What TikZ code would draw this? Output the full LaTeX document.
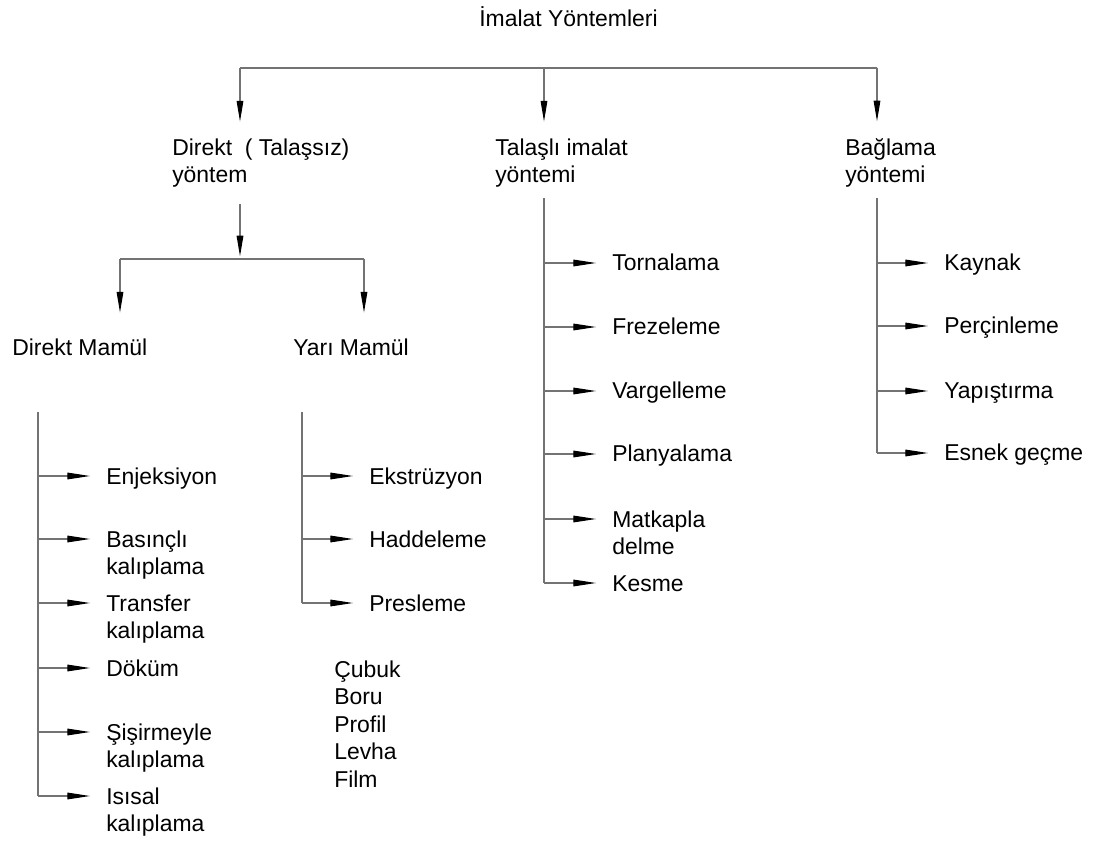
\documentclass[tikz,border=0pt]{standalone}
\usepackage{fontspec}
\setmainfont{Liberation Sans}
\usetikzlibrary{arrows.meta, positioning}

\begin{document}
\begin{tikzpicture}[
  x=0.75pt, y=-0.75pt,
  % --- Text styles ---
  lbl/.style={anchor=base west, inner sep=0pt, align=left,
    font=\fontsize{17.2pt}{20.6pt}\selectfont},
  % --- Connectors ---
  wire/.style={draw=black!55, line width=0.8pt},
  vflow/.style={wire, -{Triangle[length=15.5pt, width=5pt, color=black]}},
  hflow/.style={wire, -{Triangle[length=17pt, width=5pt, color=black]},
    shorten >=12pt},
]
\useasboundingbox (0,0) rectangle (1093,841);

% ===================== TITLE =====================
\node[lbl] (title) at (479,27) {İmalat Yöntemleri};

% ===================== LEVEL 1 =====================
% (base of a two-line node = its last line)
\node[lbl] (direkt) at (172,182.5) {Direkt\ \ ( Talaşsız)\\yöntem};
\node[lbl] (talasli) at (495,182.5) {Talaşlı imalat\\yöntemi};
\node[lbl] (baglama) at (845,182.5) {Bağlama\\yöntemi};

\coordinate (barL) at (240,68);
\coordinate (barM) at (544,68);
\coordinate (barR) at (877,68);

\draw[wire] (barL) -- (barR);
\draw[vflow, shorten >=12.5pt] (barL) -- (barL |- direkt.north);
\draw[vflow, shorten >=12.5pt] (barM) -- (barM |- talasli.north);
\draw[vflow, shorten >=12.5pt] (barR) -- (barR |- baglama.north);

% ===================== LEVEL 2 =====================
\coordinate (subT) at (240,259);
\coordinate (subL) at (120,259);
\coordinate (subR) at (364,259);

\draw[vflow, shorten <=12pt, shorten >=2pt] (direkt.south -| subT) -- (subT);
\draw[wire] (subL) -- (subR);

\node[lbl] (dmamul) at (12,356) {Direkt Mamül};
\node[lbl] (ymamul) at (293,356) {Yarı Mamül};

\draw[vflow, shorten >=20pt] (subL) -- (subL |- dmamul.north);
\draw[vflow, shorten >=20pt] (subR) -- (subR |- ymamul.north);

% ============= DIREKT MAMUL LIST =============
\coordinate (dmTop) at (38,412);
\coordinate (dm1) at (38,476);
\coordinate (dm2) at (38,539);
\coordinate (dm3) at (38,603);
\coordinate (dm4) at (38,668);
\coordinate (dm5) at (38,732);
\coordinate (dm6) at (38,796);

\node[lbl] (enj) at ([shift={(68,8)}]dm1) {Enjeksiyon};
\node[lbl] (bas) at ([shift={(68,35.5)}]dm2) {Basınçlı\\kalıplama};
\node[lbl] (tra) at ([shift={(68,35.5)}]dm3) {Transfer\\kalıplama};
\node[lbl] (dok) at ([shift={(68,8)}]dm4) {Döküm};
\node[lbl] (sis) at ([shift={(68,35.5)}]dm5) {Şişirmeyle\\kalıplama};
\node[lbl] (isi) at ([shift={(68,35.5)}]dm6) {Isısal\\kalıplama};

\draw[wire] (dmTop) -- (dm6);
\draw[hflow] (dm1) -- (dm1 -| enj.west);
\draw[hflow] (dm2) -- (dm2 -| bas.west);
\draw[hflow] (dm3) -- (dm3 -| tra.west);
\draw[hflow] (dm4) -- (dm4 -| dok.west);
\draw[hflow] (dm5) -- (dm5 -| sis.west);
\draw[hflow] (dm6) -- (dm6 -| isi.west);

% ============= YARI MAMUL LIST =============
\coordinate (ymTop) at (302,412);
\coordinate (ym1) at (302,476);
\coordinate (ym2) at (302,539);
\coordinate (ym3) at (302,603);

\node[lbl] (eks) at ([shift={(67,8)}]ym1) {Ekstrüzyon};
\node[lbl] (had) at ([shift={(67,8)}]ym2) {Haddeleme};
\node[lbl] (pre) at ([shift={(67,8)}]ym3) {Presleme};

\draw[wire] (ymTop) -- (ym3);
\draw[hflow] (ym1) -- (ym1 -| eks.west);
\draw[hflow] (ym2) -- (ym2 -| had.west);
\draw[hflow] (ym3) -- (ym3 -| pre.west);

\node[lbl] (urunler) at (334,787) {Çubuk\\Boru\\Profil\\Levha\\Film};

% ============= TALASLI LIST =============
\coordinate (tmTop) at (544,198);
\coordinate (tm1) at (544,263);
\coordinate (tm2) at (544,327);
\coordinate (tm3) at (544,391);
\coordinate (tm4) at (544,454);
\coordinate (tm5) at (544,519);
\coordinate (tm6) at (544,583);

\node[lbl] (tor) at ([shift={(68,8)}]tm1) {Tornalama};
\node[lbl] (fre) at ([shift={(68,8)}]tm2) {Frezeleme};
\node[lbl] (var) at ([shift={(68,8)}]tm3) {Vargelleme};
\node[lbl] (pla) at ([shift={(68,8)}]tm4) {Planyalama};
\node[lbl] (mat) at ([shift={(68,35.5)}]tm5) {Matkapla\\delme};
\node[lbl] (kes) at ([shift={(68,8)}]tm6) {Kesme};

\draw[wire] (tmTop) -- (tm6);
\draw[hflow] (tm1) -- (tm1 -| tor.west);
\draw[hflow] (tm2) -- (tm2 -| fre.west);
\draw[hflow] (tm3) -- (tm3 -| var.west);
\draw[hflow] (tm4) -- (tm4 -| pla.west);
\draw[hflow] (tm5) -- (tm5 -| mat.west);
\draw[hflow] (tm6) -- (tm6 -| kes.west);

% ============= BAGLAMA LIST =============
\coordinate (bmTop) at (877,198);
\coordinate (bm1) at (877,263);
\coordinate (bm2) at (877,326);
\coordinate (bm3) at (877,391);
\coordinate (bm4) at (877,453);

\node[lbl] (kay) at ([shift={(67,8)}]bm1) {Kaynak};
\node[lbl] (per) at ([shift={(67,8)}]bm2) {Perçinleme};
\node[lbl] (yap) at ([shift={(67,8)}]bm3) {Yapıştırma};
\node[lbl] (esn) at ([shift={(67,8)}]bm4) {Esnek geçme};

\draw[wire] (bmTop) -- (bm4);
\draw[hflow] (bm1) -- (bm1 -| kay.west);
\draw[hflow] (bm2) -- (bm2 -| per.west);
\draw[hflow] (bm3) -- (bm3 -| yap.west);
\draw[hflow] (bm4) -- (bm4 -| esn.west);

\end{tikzpicture}
\end{document}
